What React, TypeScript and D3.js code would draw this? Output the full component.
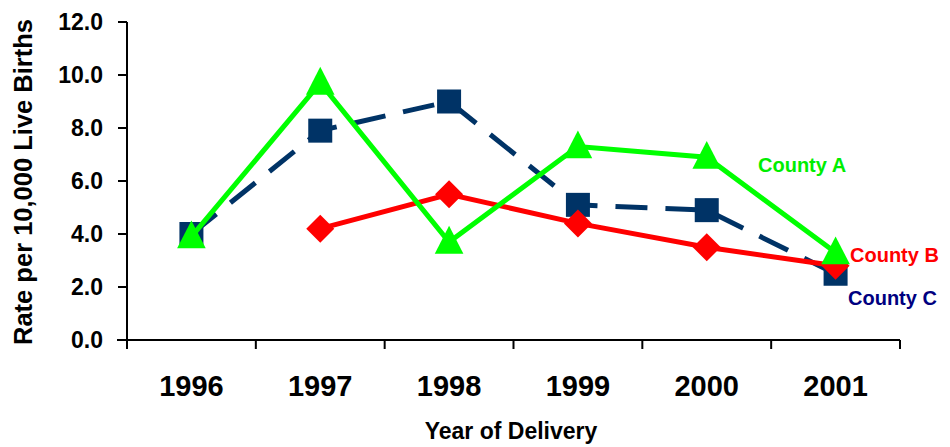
import React from "react";
import * as d3 from "d3";

const years = ["1996", "1997", "1998", "1999", "2000", "2001"];
const countyA = [3.9, 9.7, 3.7, 7.3, 6.9, 3.3];
const countyB: (number | null)[] = [null, 4.2, 5.5, 4.4, 3.5, 2.8];
const countyC = [4.0, 7.9, 9.0, 5.1, 4.9, 2.5];
const yTicks = [0, 2, 4, 6, 8, 10, 12];

const W = 950;
const H = 447;
const left = 127;
const right = 900;
const top = 22;
const bottom = 340;

export default function App() {
  const x = d3.scaleBand<string>().domain(years).range([left, right]).padding(0);
  const y = d3.scaleLinear().domain([0, 12]).range([bottom, top]);
  const cx = (i: number) => (x(years[i]) as number) + x.bandwidth() / 2;

  const line = d3
    .line<number | null>()
    .defined((d) => d !== null)
    .x((_, i) => cx(i))
    .y((d) => y(d as number));

  const bounds = [...years.map((yr) => x(yr) as number), right];
  const font = "'Liberation Sans', Arial, sans-serif";

  const tri = (px: number, py: number, s: number) =>
    `M${px},${py - s * 0.62} L${px + s * 0.55},${py + s * 0.45} L${px - s * 0.55},${py + s * 0.45} Z`;
  const dia = (px: number, py: number, s: number) =>
    `M${px},${py - s} L${px + s},${py} L${px},${py + s} L${px - s},${py} Z`;

  return (
    <svg
      width={W}
      height={H}
      style={{ position: "absolute", left: 0, top: 0, background: "#fff" }}
    >
      {/* axes */}
      <line x1={left} y1={top} x2={left} y2={bottom} stroke="#000" strokeWidth={2} />
      <line x1={left - 10} y1={bottom} x2={right} y2={bottom} stroke="#000" strokeWidth={2} />
      {yTicks.map((t) => (
        <g key={t}>
          <line x1={left - 9} x2={left} y1={y(t)} y2={y(t)} stroke="#000" strokeWidth={2} />
          <text
            x={103}
            y={y(t)}
            dy="0.36em"
            textAnchor="end"
            fontFamily={font}
            fontWeight="bold"
            fontSize={23}
            fill="#000"
          >
            {t.toFixed(1)}
          </text>
        </g>
      ))}
      {bounds.map((b, i) => (
        <line key={i} x1={b} x2={b} y1={bottom} y2={bottom + 9} stroke="#000" strokeWidth={2} />
      ))}
      {years.map((yr, i) => (
        <text
          key={yr}
          x={cx(i)}
          y={396}
          textAnchor="middle"
          fontFamily={font}
          fontWeight="bold"
          fontSize={29}
          fill="#000"
        >
          {yr}
        </text>
      ))}
      <text
        x={511}
        y={439}
        textAnchor="middle"
        fontFamily={font}
        fontWeight="bold"
        fontSize={23}
        fill="#000"
      >
        Year of Delivery
      </text>
      <text
        transform={`translate(32,${182}) rotate(-90)`}
        textAnchor="middle"
        fontFamily={font}
        fontWeight="bold"
        fontSize={25.5}
        fill="#000"
      >
        Rate per 10,000 Live Births
      </text>

      {/* County C */}
      <path
        d={line(countyC) || ""}
        fill="none"
        stroke="#003366"
        strokeWidth={5}
        strokeDasharray="32,18"
      />
      {countyC.map((v, i) => (
        <rect key={i} x={cx(i) - 12} y={y(v) - 12} width={24} height={24} fill="#003366" />
      ))}

      {/* County B */}
      <path d={line(countyB) || ""} fill="none" stroke="#ff0000" strokeWidth={5} />
      {countyB.map((v, i) =>
        v === null ? null : <path key={i} d={dia(cx(i), y(v), 14)} fill="#ff0000" />
      )}

      {/* County A */}
      <path d={line(countyA) || ""} fill="none" stroke="#00ff00" strokeWidth={5} />
      {countyA.map((v, i) => (
        <path key={i} d={tri(cx(i), y(v), 26)} fill="#00ff00" />
      ))}

      {/* labels */}
      <text x={758} y={172} fontFamily={font} fontWeight="bold" fontSize={20} fill="#00ee00">
        County A
      </text>
      <text x={850} y={262} fontFamily={font} fontWeight="bold" fontSize={20} fill="#ff0000">
        County B
      </text>
      <text x={848} y={305} fontFamily={font} fontWeight="bold" fontSize={20} fill="#000080">
        County C
      </text>
    </svg>
  );
}
